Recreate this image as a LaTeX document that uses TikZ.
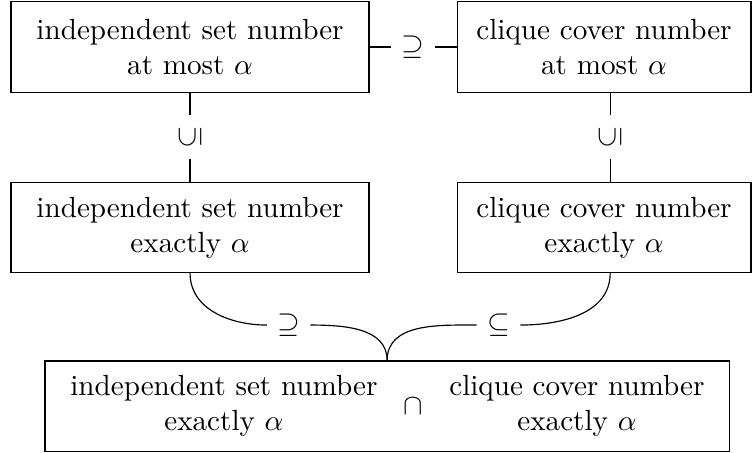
\documentclass[tikz,border=0pt]{standalone}
\usetikzlibrary{positioning}
\begin{document}
\begin{tikzpicture}[x=1pt,y=1pt,
  box/.style={draw, align=center, inner sep=0pt, minimum height=31pt},
  wide/.style={box, minimum width=122.8pt},
  narrow/.style={box, minimum width=100.8pt},
  txt/.style={align=center, inner sep=0pt},
  rel/.style={inner sep=3.4pt},
  link/.style={line width=0.4pt}]
\useasboundingbox (0,0) rectangle (258.3,-155.1);

% upper row
\node[wide]   (tl) at (65.2,-16.1)  {independent set number\\at most $\alpha$};
\node[narrow] (tr) at (207.2,-16.1) {clique cover number\\at most $\alpha$};
% middle row
\node[wide]   (ml) at (65.2,-78.0)  {independent set number\\exactly $\alpha$};
\node[narrow] (mr) at (207.2,-78.0) {clique cover number\\exactly $\alpha$};
% intersection box
\node[draw, inner sep=0pt, minimum width=234.7pt, minimum height=30.9pt] (bot) at (132.8,-139.3) {};
\node[txt] (bl)  at (76.8,-139.3)  {independent set number\\exactly $\alpha$};
\node[txt] (cap) at (141.9,-139.3) {$\cap$};
\node[txt] (br)  at (197.9,-139.3) {clique cover number\\exactly $\alpha$};

% relation symbols
\node[rel] (h1) at (141.7,-16.1) {$\supseteq$};
\node[rel, rotate=90] (v1) at (65.2,-47.0) {$\subseteq$};
\node[rel, rotate=90] (v2) at (209.3,-47.0) {$\subseteq$};
\node[rel] (c1) at (99.0,-111.5)  {$\supseteq$};
\node[rel] (c2) at (171.0,-111.5) {$\subseteq$};

% connectors
\draw[link] (tl) -- (h1) -- (tr);
\draw[link] (tl) -- (v1) -- (ml);
\draw[link] (tr.south -| v2) -- (v2) -- (mr.north -| v2);
\draw[link] (ml.south) to[out=-90,in=180] (c1.west);
\draw[link] (c1.east) to[out=0,in=90] (bot.north);
\draw[link] (mr.south -| v2) to[out=-90,in=0] (c2.east);
\draw[link] (c2.west) to[out=180,in=90] (bot.north);
\end{tikzpicture}
\end{document}
